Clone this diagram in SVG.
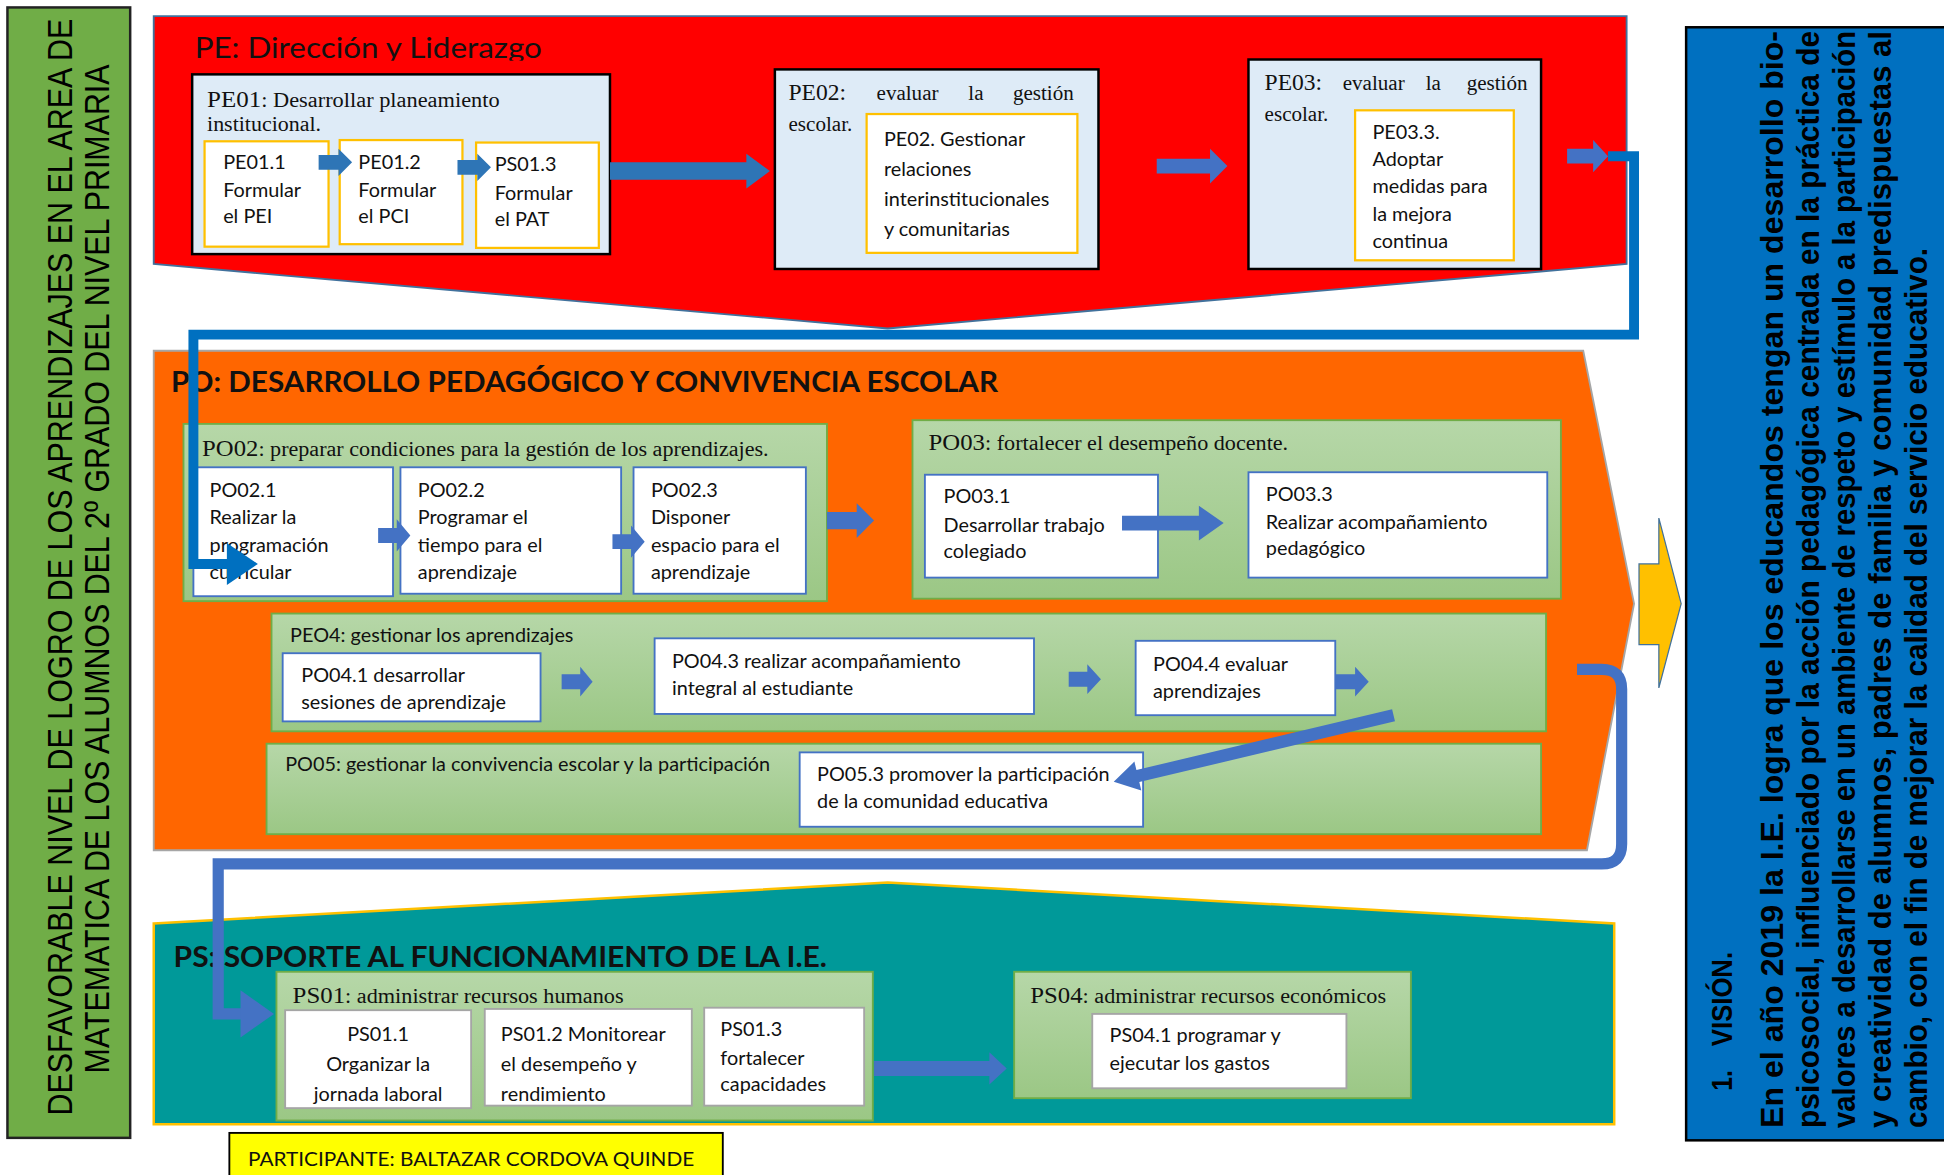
<svg xmlns="http://www.w3.org/2000/svg" width="1944" height="1175" viewBox="0 0 1944 1175">
<defs>
<linearGradient id="gg" x1="0" y1="0" x2="0" y2="1">
<stop offset="0" stop-color="#B6D7A8"/>
<stop offset="1" stop-color="#9BC785"/>
</linearGradient>
<clipPath id="clipPE"><rect x="120" y="10" width="400" height="39"/></clipPath>
<clipPath id="clipPS11"><rect x="230" y="815" width="150" height="78"/></clipPath>
<clipPath id="clipPS12"><rect x="391" y="814" width="167" height="77"/></clipPath>
<style>
.cal{font-family:Lato,"Open Sans","Liberation Sans",sans-serif;font-size:16px;fill:#111}
.ser{font-family:"Liberation Serif","DejaVu Serif",serif;font-size:17px;fill:#111}
.big{font-family:Lato,"Open Sans","Liberation Sans",sans-serif;font-size:23px;fill:#111}
.bl{fill:#DEEBF7;stroke:#000;stroke-width:2}
.wy{fill:#fff;stroke:#FFC000;stroke-width:1.8}
.wb{fill:#fff;stroke:#4472C4;stroke-width:1.5}
.wg{fill:#fff;stroke:#A5A5A5;stroke-width:1.5}
.gr{fill:url(#gg);stroke:#70AD47;stroke-width:1.5}
.ar1{fill:#2E75B6}
.ar2{fill:#4472C4}
.rot{font-family:"Liberation Sans","DejaVu Sans",sans-serif;fill:#000}
.vis{font-family:"Liberation Sans","DejaVu Sans",sans-serif;fill:#000;font-weight:bold;font-size:20px}
</style>
</defs>
<rect width="1944" height="1175" fill="#fff"/>
<g transform="scale(1.2398,1.2395)">

<g id="problema">
<rect x="6" y="6" width="99" height="912" fill="#70AD47" stroke="#222" stroke-width="2"/>
<text class="rot" font-size="24" transform="translate(58,900) rotate(-90) scale(1,1.17)" textLength="885" lengthAdjust="spacingAndGlyphs">DESFAVORABLE NIVEL DE LOGRO DE LOS APRENDIZAJES EN EL AREA DE</text>
<text class="rot" font-size="24" transform="translate(88,866) rotate(-90) scale(1,1.17)" textLength="814" lengthAdjust="spacingAndGlyphs">MATEMATICA DE LOS ALUMNOS DEL 2º GRADO DEL NIVEL PRIMARIA</text>
</g>

<g id="PE">
<polygon points="124,13 1312,13 1312,213 716,265 124,213" fill="#FF0000" stroke="#41719C" stroke-width="1.5"/>
<text class="big" x="157" y="47" clip-path="url(#clipPE)" textLength="280" lengthAdjust="spacingAndGlyphs">PE: Dirección y Liderazgo</text>
</g>

<g id="PE01">
<rect class="bl" x="155" y="60" width="337" height="145"/>
<text class="ser" x="167" y="86" textLength="236" lengthAdjust="spacingAndGlyphs"><tspan font-size="19">PE01</tspan>: Desarrollar planeamiento</text>
<text class="ser" x="167" y="106" textLength="92" lengthAdjust="spacingAndGlyphs">institucional.</text>
</g>
<g id="PE01.1">
<rect class="wy" x="165" y="114" width="100" height="85"/>
<text class="cal" x="180" y="136">PE01.1</text><text class="cal" x="180" y="159">Formular</text><text class="cal" x="180" y="180">el PEI</text>
</g>
<g id="PE01.2">
<rect class="wy" x="274" y="113" width="99" height="84"/>
<text class="cal" x="289" y="136">PE01.2</text><text class="cal" x="289" y="159">Formular</text><text class="cal" x="289" y="180">el PCI</text>
</g>
<g id="PS01.3-PE">
<rect class="wy" x="384" y="115" width="99" height="85"/>
<text class="cal" x="399" y="138">PS01.3</text><text class="cal" x="399" y="161">Formular</text><text class="cal" x="399" y="182">el PAT</text>
</g>

<g id="PE02">
<rect class="bl" x="625" y="56" width="261" height="161"/>
<text class="ser"><tspan x="636" y="81" font-size="19">PE02:</tspan><tspan x="707" y="81">evaluar</tspan><tspan x="781" y="81">la</tspan><tspan x="817" y="81">gestión</tspan></text>
<text class="ser" x="636" y="106">escolar.</text>
<rect class="wy" x="699" y="92" width="170" height="112"/>
<text class="cal" x="713" y="118">PE02. Gestionar</text>
<text class="cal" x="713" y="142">relaciones</text>
<text class="cal" x="713" y="166">interinstitucionales</text>
<text class="cal" x="713" y="190">y comunitarias</text>
</g>

<g id="PE03">
<rect class="bl" x="1007" y="48" width="236" height="169"/>
<text class="ser"><tspan x="1020" y="73" font-size="19">PE03:</tspan><tspan x="1083" y="73">evaluar</tspan><tspan x="1150" y="73">la</tspan><tspan x="1183" y="73">gestión</tspan></text>
<text class="ser" x="1020" y="98">escolar.</text>
<rect class="wy" x="1093" y="89" width="128" height="121"/>
<text class="cal" x="1107" y="112">PE03.3.</text>
<text class="cal" x="1107" y="134">Adoptar</text>
<text class="cal" x="1107" y="156">medidas para</text>
<text class="cal" x="1107" y="178">la mejora</text>
<text class="cal" x="1107" y="200">continua</text>
</g>

<g id="PO">
<polygon points="124,283 1277,283 1318,487 1280,686 124,686" fill="#FF6600" stroke="#A6A6A6" stroke-width="1.5"/>
<text class="big" x="138" y="316" font-weight="bold" textLength="667" lengthAdjust="spacingAndGlyphs">PO: DESARROLLO PEDAGÓGICO Y CONVIVENCIA ESCOLAR</text>
</g>

<g id="PO02">
<rect class="gr" x="148" y="342" width="519" height="143"/>
<text class="ser" x="163" y="368" textLength="457" lengthAdjust="spacingAndGlyphs"><tspan font-size="19">PO02</tspan>: preparar condiciones para la gestión de los aprendizajes.</text>
</g>
<g id="PO02.1">
<rect class="wb" x="156" y="377" width="161" height="104"/>
<text class="cal" x="169" y="401">PO02.1</text><text class="cal" x="169" y="423">Realizar la</text><text class="cal" x="169" y="445">programación</text><text class="cal" x="169" y="467">curricular</text>
</g>
<g id="PO02.2">
<rect class="wb" x="323" y="377" width="178" height="102"/>
<text class="cal" x="337" y="401">PO02.2</text><text class="cal" x="337" y="423">Programar el</text><text class="cal" x="337" y="445">tiempo para el</text><text class="cal" x="337" y="467">aprendizaje</text>
</g>
<g id="PO02.3">
<rect class="wb" x="511" y="377" width="139" height="102"/>
<text class="cal" x="525" y="401">PO02.3</text><text class="cal" x="525" y="423">Disponer</text><text class="cal" x="525" y="445">espacio para el</text><text class="cal" x="525" y="467">aprendizaje</text>
</g>

<g id="PO03">
<rect class="gr" x="736" y="339" width="523" height="144"/>
<text class="ser" x="749" y="363" textLength="290" lengthAdjust="spacingAndGlyphs"><tspan font-size="19">PO03</tspan>: fortalecer el desempeño docente.</text>
</g>
<g id="PO03.1">
<rect class="wb" x="746" y="383" width="188" height="83"/>
<text class="cal" x="761" y="406">PO03.1</text><text class="cal" x="761" y="429">Desarrollar trabajo</text><text class="cal" x="761" y="450">colegiado</text>
</g>
<g id="PO03.3">
<rect class="wb" x="1007" y="381" width="241" height="85"/>
<text class="cal" x="1021" y="404">PO03.3</text><text class="cal" x="1021" y="427">Realizar acompañamiento</text><text class="cal" x="1021" y="448">pedagógico</text>
</g>

<g id="PEO4">
<rect class="gr" x="219" y="495" width="1028" height="95"/>
<text class="cal" x="234" y="518">PEO4: gestionar los aprendizajes</text>
</g>
<g id="PO04.1">
<rect class="wb" x="228" y="527" width="208" height="55"/>
<text class="cal" x="243" y="550">PO04.1 desarrollar</text><text class="cal" x="243" y="572">sesiones de aprendizaje</text>
</g>
<g id="PO04.3">
<rect class="wb" x="528" y="515" width="306" height="61"/>
<text class="cal" x="542" y="539">PO04.3 realizar acompañamiento</text><text class="cal" x="542" y="561">integral al estudiante</text>
</g>
<g id="PO04.4">
<rect class="wb" x="916" y="517" width="161" height="60"/>
<text class="cal" x="930" y="541">PO04.4 evaluar</text><text class="cal" x="930" y="563">aprendizajes</text>
</g>

<g id="PO05">
<rect class="gr" x="215" y="600" width="1028" height="73"/>
<text class="cal" x="230" y="622">PO05: gestionar la convivencia escolar y la participación</text>
</g>
<g id="PO05.3">
<rect class="wb" x="645" y="607" width="277" height="60"/>
<text class="cal" x="659" y="630">PO05.3 promover la participación</text><text class="cal" x="659" y="652">de la comunidad educativa</text>
</g>

<g id="vision-arrow">
<polygon points="1322,455 1338,455 1338,418 1356,487 1338,555 1338,520 1322,520" fill="#FFC000" stroke="#41719C" stroke-width="1"/>
</g>

<g id="PS">
<polygon points="124,745 716,712 1302,745 1302,907 124,907" fill="#009999" stroke="#FFC000" stroke-width="2"/>
<text class="big" x="140" y="780" font-weight="bold" textLength="527" lengthAdjust="spacingAndGlyphs">PS: SOPORTE AL FUNCIONAMIENTO DE LA I.E.</text>
</g>

<g id="PS01">
<rect class="gr" x="223" y="784" width="481" height="120"/>
<text class="ser" x="236" y="809" textLength="267" lengthAdjust="spacingAndGlyphs"><tspan font-size="19">PS01</tspan>: administrar recursos humanos</text>
</g>
<g id="PS01.1">
<rect class="wg" x="230" y="815" width="150" height="79"/>
<g clip-path="url(#clipPS11)">
<text class="cal" x="305" y="840" text-anchor="middle">PS01.1</text><text class="cal" x="305" y="864" text-anchor="middle">Organizar la</text><text class="cal" x="305" y="888" text-anchor="middle">jornada laboral</text>
</g>
</g>
<g id="PS01.2">
<rect class="wg" x="391" y="814" width="167" height="78"/>
<g clip-path="url(#clipPS12)">
<text class="cal" x="404" y="840">PS01.2 Monitorear</text><text class="cal" x="404" y="864">el desempeño y</text><text class="cal" x="404" y="888">rendimiento</text>
</g>
</g>
<g id="PS01.3">
<rect class="wg" x="568" y="813" width="129" height="79"/>
<text class="cal" x="581" y="836">PS01.3</text><text class="cal" x="581" y="859">fortalecer</text><text class="cal" x="581" y="880">capacidades</text>
</g>

<g id="PS04">
<rect class="gr" x="818" y="784" width="320" height="102"/>
<text class="ser" x="831" y="809" textLength="287" lengthAdjust="spacingAndGlyphs"><tspan font-size="19">PS04</tspan>: administrar recursos económicos</text>
<rect class="wg" x="881" y="818" width="205" height="60"/>
<text class="cal" x="895" y="841">PS04.1 programar y</text><text class="cal" x="895" y="863">ejecutar los gastos</text>
</g>

<g id="participante">
<rect x="185" y="914" width="398" height="40" fill="#FFFF00" stroke="#000" stroke-width="1.5"/>
<text class="cal" x="200" y="941" textLength="360" lengthAdjust="spacingAndGlyphs">PARTICIPANTE: BALTAZAR CORDOVA QUINDE</text>
</g>

<g id="vision">
<rect x="1360" y="22" width="215" height="898" fill="#0070C0" stroke="#000" stroke-width="2"/>
<text class="vis" font-size="19" transform="translate(1397,880) rotate(-90) scale(1,1.16)"><tspan x="0" y="0">1.</tspan><tspan x="36" y="0" textLength="76" lengthAdjust="spacingAndGlyphs">VISIÓN.</tspan></text>
<text class="vis" transform="translate(1438,910) rotate(-90) scale(1,1.3)" textLength="885" lengthAdjust="spacingAndGlyphs">En el año 2019 la I.E. logra que los educandos tengan un desarrollo bio-</text>
<text class="vis" transform="translate(1467,910) rotate(-90) scale(1,1.3)" textLength="885" lengthAdjust="spacingAndGlyphs">psicosocial, influenciado por la acción pedagógica centrada en la práctica de</text>
<text class="vis" transform="translate(1496,910) rotate(-90) scale(1,1.3)" textLength="885" lengthAdjust="spacingAndGlyphs">valores a desarrollarse en un ambiente de respeto y estímulo a la participación</text>
<text class="vis" transform="translate(1525,910) rotate(-90) scale(1,1.3)" textLength="885" lengthAdjust="spacingAndGlyphs">y creatividad de alumnos, padres de familia y comunidad predispuestas al</text>
<text class="vis" transform="translate(1554,910) rotate(-90) scale(1,1.3)" textLength="710" lengthAdjust="spacingAndGlyphs">cambio, con el fin de mejorar la calidad del servicio educativo.</text>
</g>

<g id="connectors">
<polygon class="ar1" points="257,125 273,125 273,120 284,131 273,142 273,137 257,137"/>
<polygon class="ar1" points="369,129 385,129 385,124 396,135 385,146 385,141 369,141"/>
<polygon class="ar1" points="492,131 602,131 602,124 621,138 602,152 602,145 492,145"/>
<polygon class="ar2" points="933,128 976,128 976,120 990,134 976,148 976,140 933,140"/>
<polygon class="ar2" points="1264,120 1285,120 1285,113 1297,126 1285,139 1285,132 1264,132"/>
<path d="M1297,126 H1318 V270 H156 V455 H185" fill="none" stroke="#0070C0" stroke-width="8"/>
<polygon points="183,438 208,455 183,472" fill="#0070C0"/>
<polygon class="ar2" points="305,426 320,426 320,419 331,432 320,445 320,438 305,438"/>
<polygon class="ar2" points="494,431 509,431 509,424 520,437 509,450 509,443 494,443"/>
<polygon class="ar2" points="667,413 691,413 691,406 705,420 691,434 691,427 667,427"/>
<polygon class="ar2" points="905,416 967,416 967,408 987,422 967,436 967,428 905,428"/>
<polygon class="ar2" points="453,544 468,544 468,538 478,550 468,562 468,556 453,556"/>
<polygon class="ar2" points="862,542 877,542 877,536 888,548 877,560 877,554 862,554"/>
<polygon class="ar2" points="1077,544 1093,544 1093,538 1104,550 1093,562 1093,556 1077,556"/>
<polygon class="ar2" points="0,-5 212,-5 212,-12 232,0 212,12 212,5 0,5" transform="translate(1124,577) rotate(166.6)"/>
<path d="M1272,540 H1292 Q1308,540 1308,556 V681 Q1308,697 1292,697 H176 V818 H196" fill="none" stroke="#4472C4" stroke-width="9"/>
<polygon points="194,799 221,818 194,837" fill="#4472C4"/>
<polygon class="ar2" points="705,856 798,856 798,849 812,862 798,875 798,868 705,868"/>
</g>
</g>
</svg>
